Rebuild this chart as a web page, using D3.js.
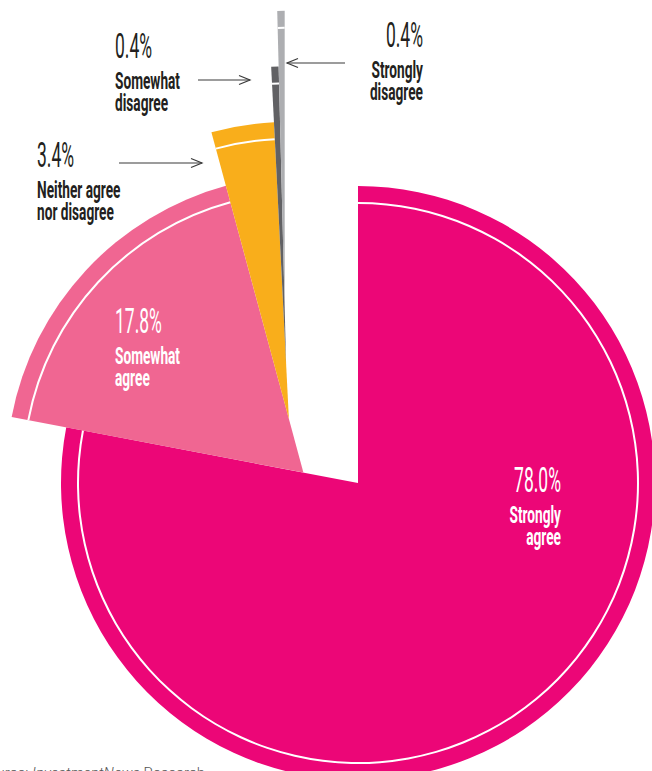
<!DOCTYPE html>
<html lang="en">
<head>
<meta charset="UTF-8">
<title>Agreement survey pie</title>
<script src="https://d3js.org/d3.v7.min.js"></script>
<style>
    body { margin: 0; background: #fff; }
    svg { display: block; }
    .pct { font-family: Roboto, "Liberation Sans", sans-serif; font-weight: 400; font-size: 35px; }
    .lbl { font-family: Roboto, "Liberation Sans", sans-serif; font-weight: 700; font-size: 24px; }
    .arrow { fill: none; stroke: #3a3a3a; stroke-width: 1.2px; }
    .source { font-family: Roboto, sans-serif; font-weight: 300; font-size: 15px; fill: #555; }
</style>
</head>
<body>
<svg width="652" height="771"></svg>
<script>
// Data
const categories = ["Strongly agree", "Somewhat agree", "Neither agree nor disagree", "Somewhat disagree", "Strongly disagree"];
const values = [78.0, 17.8, 3.4, 0.4, 0.4];
const pctLabels = ["78.0%", "17.8%", "3.4%", "0.4%", "0.4%"];
const labelLines = [["Strongly", "agree"], ["Somewhat", "agree"], ["Neither agree", "nor disagree"], ["Somewhat", "disagree"], ["Strongly", "disagree"]];
const colors = ["#ec0677", "#f06692", "#f9ae1b", "#616164", "#adaeb1"];

// layout
const svg = d3.select("svg");
const cx = 358, cy = 483;
const R = 297, ringR = 280, shift = 55.6;

const pie = d3.pie().sort(null).value(d => d);
const arcs = pie(values);
const arc = d3.arc().innerRadius(0).outerRadius(R);
const ring = d3.arc().innerRadius(ringR - 1).outerRadius(ringR + 1);

// each slice slides out along the edge it shares with the previous one
let ox = cx, oy = cy;
arcs.forEach((a, i) => {
    if (i > 0) {
        ox += shift * Math.sin(a.startAngle);
        oy -= shift * Math.cos(a.startAngle);
    }
    a.ox = ox;
    a.oy = oy;
});

const slices = svg.append("g");
arcs.forEach((a, i) => {
    const g = slices.append("g").attr("transform", `translate(${a.ox},${a.oy})`);
    g.append("path").attr("d", arc(a)).attr("fill", colors[i]);
    g.append("path").attr("d", ring(a)).attr("fill", "#fff");
});

// labels: [x, baseline of percent, anchor, text color]
const labelPos = [
    [561, 492, "end", "#fff"],
    [115, 333, "start", "#fff"],
    [37, 167, "start", "#231f20"],
    [115, 58, "start", "#231f20"],
    [423, 47, "end", "#231f20"]
];

labelPos.forEach((p, i) => {
    const g = svg.append("g").attr("transform", `translate(${p[0]},${p[1]}) scale(0.5,1)`);
    g.append("text").attr("class", "pct")
        .attr("text-anchor", p[2]).attr("fill", p[3])
        .text(pctLabels[i]);
    const g2 = svg.append("g").attr("transform", `translate(${p[0]},${p[1]}) scale(0.57,1)`);
    labelLines[i].forEach((t, j) => {
        g2.append("text").attr("class", "lbl")
            .attr("text-anchor", p[2]).attr("fill", p[3])
            .attr("y", 31 + j * 22)
            .text(t);
    });
});

// arrows [x1, x2, y]
const arrows = [[198, 250, 80], [345, 287, 63], [119, 202, 163]];
arrows.forEach(([x1, x2, y]) => {
    const dir = Math.sign(x2 - x1);
    svg.append("line").attr("class", "arrow")
        .attr("x1", x1).attr("y1", y).attr("x2", x2).attr("y2", y);
    svg.append("path").attr("class", "arrow")
        .attr("d", `M${x2 - dir * 11},${y - 4.5}L${x2},${y}L${x2 - dir * 11},${y + 4.5}`);
});

// source line, mostly cut off by the bottom edge
const src = svg.append("text").attr("class", "source")
    .attr("x", 205).attr("y", 778).attr("text-anchor", "end");
src.append("tspan").text("Source: ");
src.append("tspan").attr("font-style", "italic").text("InvestmentNews");
src.append("tspan").text(" Research");
</script>
</body>
</html>
